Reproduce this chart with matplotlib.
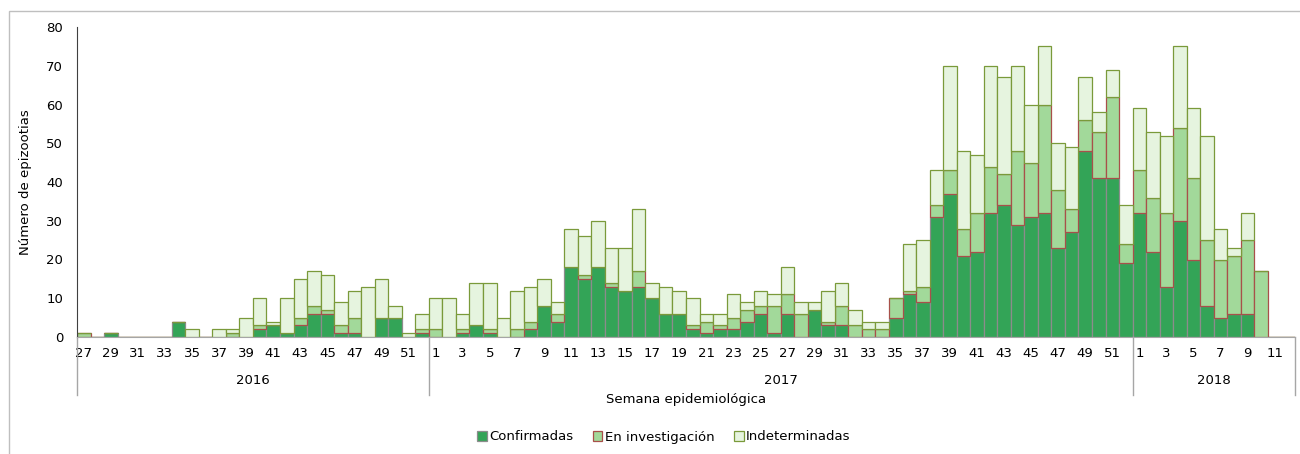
import numpy as np
import matplotlib
matplotlib.use("Agg")
import matplotlib.pyplot as plt
from matplotlib.patches import Rectangle
import matplotlib.transforms as mtransforms

# weeks per year shown on the axis
weeks_2016 = list(range(27, 53))
weeks_2017 = list(range(1, 53))
weeks_2018 = list(range(1, 13))
years = ["2016", "2017", "2018"]

confirmadas = [
    # 2016 wk 27-52
    0, 0, 1, 0, 0, 0, 0, 4, 0, 0, 0, 0, 0, 2, 3, 1, 3, 6, 6, 1, 1, 0, 5, 5, 0, 1,
    # 2017 wk 1-52
    0, 0, 1, 3, 1, 0, 0, 2, 8, 4, 18, 15, 18, 13, 12, 13, 10, 6, 6, 2,
    1, 2, 2, 4, 6, 1, 6, 0, 7, 3, 3, 0, 0, 0, 5, 11, 9, 31, 37, 21,
    22, 32, 34, 29, 31, 32, 23, 27, 48, 41, 41, 19,
    # 2018 wk 1-12
    32, 22, 13, 30, 20, 8, 5, 6, 6, 0, 0, 0,
]
en_investigacion = [
    1, 0, 0, 0, 0, 0, 0, 0, 0, 0, 0, 1, 0, 1, 0, 0, 2, 2, 1, 2, 4, 0, 0, 0, 0, 1,
    2, 0, 1, 0, 1, 0, 2, 2, 0, 2, 0, 1, 0, 1, 0, 4, 0, 0, 0, 1,
    3, 1, 3, 3, 2, 7, 5, 6, 0, 1, 5, 3, 2, 2, 5, 1, 4, 3, 6, 7,
    10, 12, 8, 19, 14, 28, 15, 6, 8, 12, 21, 5,
    11, 14, 19, 24, 21, 17, 15, 15, 19, 17, 0, 0,
]
indeterminadas = [
    0, 0, 0, 0, 0, 0, 0, 0, 2, 0, 2, 1, 5, 7, 1, 9, 10, 9, 9, 6, 7, 13, 10, 3, 1, 4,
    8, 10, 4, 11, 12, 5, 10, 9, 7, 3, 10, 10, 12, 9, 11, 16, 4, 7, 6, 7,
    2, 3, 6, 2, 4, 3, 7, 3, 2, 8, 6, 4, 2, 2, 0, 12, 12, 9, 27, 20,
    15, 26, 25, 22, 15, 15, 12, 16, 11, 5, 7, 10,
    16, 17, 20, 21, 18, 27, 8, 2, 7, 0, 0, 0,
]

week_labels = weeks_2016 + weeks_2017 + weeks_2018
n = len(week_labels)
x = np.arange(n)
conf = np.array(confirmadas)
inv = np.array(en_investigacion)
ind = np.array(indeterminadas)

fig = plt.figure(figsize=(13, 4.54), dpi=100)
ax = fig.add_axes([77 / 1300, (454 - 337) / 454, 1218 / 1300, 310 / 454])

ax.bar(x, conf, width=1.0, color="#33a457", edgecolor="#8c8c8c", linewidth=0.9,
       label="Confirmadas")
ax.bar(x, inv, width=1.0, bottom=conf, color="#a2d99a", edgecolor="#a8504a",
       linewidth=0.9, label="En investigación")
ax.bar(x, ind, width=1.0, bottom=conf + inv, color="#e6f4df", edgecolor="#7a9a3a",
       linewidth=0.9, label="Indeterminadas")

ax.set_xlim(-0.5, n - 0.5)
ax.set_ylim(0, 80)
ax.set_yticks(range(0, 81, 10))
ax.tick_params(axis="y", length=0, labelsize=9.5, pad=10)
ax.set_ylabel("Número de epizootias", fontsize=9.5, labelpad=10)

for s in ["top", "right"]:
    ax.spines[s].set_visible(False)
ax.spines["left"].set_color("#404040")
ax.spines["bottom"].set_color("#a6a6a6")

# odd weeks only as tick labels
tick_pos = [i for i, w in enumerate(week_labels) if w % 2 == 1]
ax.set_xticks(tick_pos)
ax.set_xticklabels([str(week_labels[i]) for i in tick_pos], fontsize=9.5)
ax.tick_params(axis="x", length=0, pad=7)

# year groups below the week labels
trans = mtransforms.blended_transform_factory(ax.transData, ax.transAxes)
bounds = [0, len(weeks_2016), len(weeks_2016) + len(weeks_2017), n]
for b in bounds:
    ax.plot([b - 0.5, b - 0.5], [0, -58 / 310], transform=trans, color="#a6a6a6",
            lw=1, clip_on=False)
for i, yr in enumerate(years):
    mid = (bounds[i] + bounds[i + 1]) / 2 - 0.5
    ax.text(mid, -44 / 310, yr, transform=trans, ha="center", va="center", fontsize=9.5)

ax.text(0.5, -62 / 310, "Semana epidemiológica", transform=ax.transAxes,
        ha="center", va="center", fontsize=9.5)

fig.legend(loc="center", bbox_to_anchor=(664 / 1300, 1 - 437 / 454), ncol=3,
           frameon=False, fontsize=9.5, handlelength=0.7, handleheight=0.7,
           handletextpad=0.2, columnspacing=1.5)

# chart frame
fig.patches.append(Rectangle((9 / 1300, -0.01), 1.02, 1 - 11 / 454 + 0.01,
                             transform=fig.transFigure, fill=False,
                             edgecolor="#bfbfbf", lw=1))

fig.savefig("out.png", dpi=100)
